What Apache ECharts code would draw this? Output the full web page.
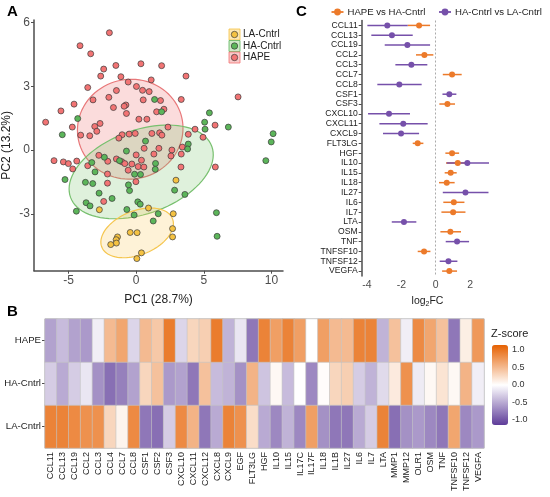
<!DOCTYPE html>
<html lang="en">
<head>
<meta charset="UTF-8">
<title>PCA / fold change / heatmap</title>
<script src="https://cdnjs.cloudflare.com/ajax/libs/echarts/6.0.0/echarts.min.js"></script>
<style>
  html, body { margin: 0; padding: 0; background: #fff; }
  #main { width: 550px; height: 497px; }
</style>
</head>
<body>
<div id="main"></div>
<script>
// ---------- panel A : PCA scores [PC1, PC2]
const hapePts = [
  [-1.98,5.52],[-4.15,4.91],[-3.36,4.53],[0.35,4.06],[1.88,3.97],[-1.5,3.98],[-2.4,3.81],
  [-2.62,3.48],[-1.13,3.45],[3.68,3.48],[1.11,3.3],[-0.59,3.2],[-3.58,2.94],[0.02,2.99],
  [0.47,2.81],[0.96,2.75],[-1.46,2.8],[-2.02,2.48],[7.53,2.5],[-3.19,2.36],[0.52,2.36],
  [1.8,2.33],[3.33,2.38],[-4.59,2.16],[-0.76,2.12],[-0.89,2.06],[-1.68,2.0],[-5.56,1.84],
  [1.51,1.8],[2.05,1.92],[-0.72,1.72],[0.2,1.45],[0.79,1.45],[-6.69,1.31],[-2.67,1.25],
  [-3.06,1.11],[-2.91,0.88],[-4.72,1.08],[-4.1,0.7],[-3.43,0.67],[2.35,1.08],[4.35,0.98],
  [5.83,1.17],[4.94,0.6],[3.85,0.74],[-1.04,0.72],[-0.52,0.75],[-0.07,0.78],[-1.28,0.56],
  [1.16,0.78],[1.73,0.81],[1.9,0.7],[0.59,0.08],[1.68,0.08],[2.64,0.0],[3.41,0.14],
  [-6.07,-0.5],[-5.38,-0.56],[-5.01,-0.64],[-4.69,-0.89],[-4.39,-0.52],[-3.58,-0.74],
  [-2.76,-0.25],[-2.1,-0.53],[-1.46,-0.42],[-1.06,-0.55],[-0.84,-0.64],[-0.32,-0.66],
  [0.0,-0.23],[0.39,-0.48],[0.15,-0.78],[0.57,-0.8],[-0.59,-0.95],[1.31,-0.19],[2.57,-0.28],
  [3.33,-0.19],[3.31,-0.8],[-2.12,-1.13],[-0.02,-1.49],[-2.12,-1.56],[-2.4,-2.42],[5.85,-0.8]
];
const haPts = [
  [1.36,2.38],[1.88,1.8],[-4.32,1.48],[5.41,1.75],[5.06,1.31],[5.09,0.98],[6.81,1.08],
  [-5.46,0.72],[10.12,0.77],[9.98,0.38],[0.69,0.42],[3.85,0.28],[3.8,0.05],[-0.72,-0.05],
  [-5.26,-1.39],[-3.28,-0.59],[-3.04,-1.03],[-2.35,-0.34],[-1.23,-0.5],[-0.12,-1.14],[0.32,-1.15],
  [1.43,-0.63],[1.41,-0.91],[9.58,-0.5],[-3.75,-1.52],[-3.21,-1.58],[-0.57,-1.64],[-0.49,-1.91],
  [-2.74,-2.03],[-1.78,-2.28],[2.84,-1.89],[3.6,-2.09],[-3.7,-2.48],[-3.41,-2.63],[-4.42,-2.88],
  [-0.69,-2.8],[0.12,-2.44],[0.3,-2.55],[-0.15,-3.06],[1.63,-3.0],[1.26,-3.34],[5.93,-2.95],
  [5.98,-4.06]
];
const laPts = [
  [2.94,-1.42],[-2.72,-2.81],[0.91,-2.73],[2.74,-3.0],[2.69,-3.7],[2.69,-4.09],[-0.44,-3.88],
  [0.07,-3.89],[-1.38,-4.09],[-1.48,-4.22],[-1.46,-4.38],[-1.88,-4.45],[0.39,-4.84],[0.05,-5.11]
];
// confidence ellipses: centre and two semi-axis vectors (data units)
const ellCentre = [[-0.44,0.98],[0.37,-1.03],[0.07,-3.9]];
const ellU = [[3.9,0.05],[5.22,1.2],[2.61,0.67]];
const ellV = [[0.0,2.35],[1.06,-1.85],[0.61,-0.96]];
const pcaXTicks = [-5,0,5,10];
const pcaYTicks = [-3,0,3,6];

// ---------- panel C : log2 fold change with intervals
const fcGenes = ['CCL11','CCL13','CCL19','CCL2','CCL3','CCL7','CCL8','CSF1','CSF3','CXCL10',
  'CXCL11','CXCL9','FLT3LG','HGF','IL10','IL15','IL18','IL27','IL6','IL7','LTA','OSM','TNF',
  'TNFSF10','TNFSF12','VEGFA'];
const hvhGenes = ['CCL11','CCL2','CCL7','CSF3','FLT3LG','HGF','IL10','IL15','IL18','IL6','IL7','OSM','TNFSF10','VEGFA'];
const hvhEst = [-0.97,-0.66,0.95,0.68,-1.05,0.95,1.28,0.87,0.64,1.05,1.01,0.85,-0.68,0.79];
const hvhLo  = [-1.63,-1.15,0.41,0.21,-1.34,0.56,0.6,0.52,0.19,0.44,0.33,0.27,-1.05,0.37];
const hvhHi  = [-0.33,-0.14,1.51,1.12,-0.72,1.36,1.95,1.22,1.1,1.67,1.73,1.47,-0.31,1.24];
const hvlGenes = ['CCL11','CCL13','CCL19','CCL3','CCL8','CSF1','CXCL10','CXCL11','CXCL9','IL10','IL27','LTA','TNF','TNFSF12'];
const hvlEst = [-2.82,-2.55,-1.65,-1.42,-2.12,0.79,-2.72,-1.89,-2.02,1.84,1.73,-1.85,1.24,0.74];
const hvlLo  = [-3.98,-3.75,-2.97,-2.35,-3.4,0.39,-3.94,-3.28,-3.07,0.64,0.41,-2.56,0.58,0.23];
const hvlHi  = [-1.63,-1.34,-0.33,-0.49,-0.82,1.2,-1.5,-0.47,-0.97,3.1,3.07,-1.13,1.94,1.26];
const fcTicks = [-4,-2,0,2];

// ---------- panel B : z-score heatmap
const hmGenes = ['CCL11','CCL13','CCL19','CCL2','CCL3','CCL4','CCL7','CCL8','CSF1','CSF2','CSF3',
  'CXCL10','CXCL11','CXCL12','CXCL8','CXCL9','EGF','FLT3LG','HGF','IL10','IL15','IL17C','IL17F',
  'IL18','IL1B','IL27','IL6','IL7','LTA','MMP1','MMP12','OLR1','OSM','TNF','TNFSF10','TNFSF12','VEGFA'];
const hmGroups = ['LA-Cntrl','HA-Cntrl','HAPE'];
const zHAPE = [-0.55,-0.4,-0.55,-0.6,-0.1,0.5,0.65,-0.25,0.5,0.4,0.95,-0.25,0.3,0.35,0.95,-0.45,-0.15,
  -0.8,0.9,0.7,0.9,0.7,0,0.7,0.5,0.5,0.9,0.9,-0.45,0.45,-0.1,0.85,0.65,0.45,-0.8,0.12,0.75];
const zHA = [-0.3,-0.5,-0.3,-0.15,-0.65,-0.85,-0.75,-0.55,0.3,0.45,-0.6,-0.55,-0.8,0.45,-0.4,-0.45,-0.65,
  0.55,-0.35,0.05,-0.4,0,-0.7,0.02,0.3,0.35,-0.3,-0.45,-0.22,0.15,0.8,-0.12,0.05,0.2,0.05,0.55,-0.1];
const zLA = [0.9,0.9,0.85,0.8,0.8,0.3,0.08,0.85,-0.8,-0.85,-0.3,0.85,0.55,-0.8,-0.5,0.9,0.8,
  0.25,-0.5,-0.7,-0.45,-0.7,0.7,-0.65,-0.8,-0.8,-0.5,-0.3,0.9,-0.85,-0.65,-0.6,-0.7,-0.8,0.65,-0.7,-0.6];
const zTicks = [1.0,0.5,0.0,-0.5,-1.0];

const FONT = '"Liberation Sans", Arial, sans-serif';
const AX = '#4d4d4d';
const ORANGE = '#ec7a2a';
const PURPLE = '#7650aa';

const chart = echarts.init(document.getElementById('main'));

function ellipse(i, stroke, fill) {
  return {
    type: 'custom', xAxisIndex: 0, yAxisIndex: 0, silent: true, z: 1,
    data: [ellCentre[i]],
    renderItem: (params, api) => {
      const cx = api.value(0), cy = api.value(1);
      const pts = [];
      for (let k = 0; k < 90; k++) {
        const t = k / 90 * Math.PI * 2;
        pts.push(api.coord([
          cx + ellU[i][0] * Math.cos(t) + ellV[i][0] * Math.sin(t),
          cy + ellU[i][1] * Math.cos(t) + ellV[i][1] * Math.sin(t)
        ]));
      }
      return { type: 'polygon', shape: { points: pts }, style: { fill: fill, stroke: stroke, lineWidth: 1.2 } };
    }
  };
}

function pcaScatter(name, pts, color) {
  return {
    name: name, type: 'scatter', xAxisIndex: 0, yAxisIndex: 0, z: 3,
    data: pts, symbolSize: 6,
    itemStyle: { color: color, borderColor: '#3a3a3a', borderWidth: 0.7, opacity: 1 }
  };
}

function whiskers(genes, est, lo, hi, color) {
  return {
    type: 'custom', xAxisIndex: 1, yAxisIndex: 1, z: 3,
    data: genes.map((g, i) => [est[i], g, lo[i], hi[i]]),
    encode: { x: 0, y: 1 },
    renderItem: (params, api) => {
      const y = api.value(1);
      const a = api.coord([api.value(2), y]);
      const b = api.coord([api.value(3), y]);
      return { type: 'line', shape: { x1: a[0], y1: a[1], x2: b[0], y2: b[1] },
               style: { stroke: color, lineWidth: 1.5 } };
    }
  };
}

function dots(genes, est, color) {
  return {
    type: 'scatter', xAxisIndex: 1, yAxisIndex: 1, z: 4,
    data: genes.map((g, i) => [est[i], g]),
    symbolSize: 6, itemStyle: { color: color, opacity: 1 }
  };
}

const heatData = [];
[zLA, zHA, zHAPE].forEach((row, r) => row.forEach((v, c) => heatData.push([c, r, v])));

// legend keys / panel letters / colour-bar labels
const graphics = [
  { type: 'text', left: 7, top: 4, style: { text: 'A', font: 'bold 15px ' + FONT, fill: '#000' } },
  { type: 'text', left: 296, top: 4, style: { text: 'C', font: 'bold 15px ' + FONT, fill: '#000' } },
  { type: 'text', left: 7, top: 304, style: { text: 'B', font: 'bold 15px ' + FONT, fill: '#000' } },
  { type: 'text', left: 491, top: 328, style: { text: 'Z-score', font: '11px ' + FONT, fill: '#222' } }
];
const legA = [['LA-Cntrl', '#f5c242', '#fde8b5'], ['HA-Cntrl', '#5cb55a', '#cfe9c9'], ['HAPE', '#f27474', '#f8c9c9']];
legA.forEach((it, i) => {
  const y = 29 + i * 11.5;
  graphics.push({ type: 'rect', shape: { x: 229, y: y, width: 11, height: 11 }, style: { fill: it[2], stroke: it[1], lineWidth: 0.8 } });
  graphics.push({ type: 'circle', shape: { cx: 234.5, cy: y + 5.5, r: 3.2 }, style: { fill: it[1], stroke: '#3a3a3a', lineWidth: 0.7 } });
  graphics.push({ type: 'text', x: 243, y: y + 5.5, style: { text: it[0], font: '10px ' + FONT, fill: '#222', verticalAlign: 'middle' } });
});
const legC = [['HAPE vs HA-Cntrl', ORANGE, 331.5], ['HA-Cntrl vs LA-Cntrl', PURPLE, 439]];
legC.forEach(it => {
  graphics.push({ type: 'line', shape: { x1: it[2], y1: 12, x2: it[2] + 12, y2: 12 }, style: { stroke: it[1], lineWidth: 1.8 } });
  graphics.push({ type: 'circle', shape: { cx: it[2] + 6, cy: 12, r: 3.4 }, style: { fill: it[1] } });
  graphics.push({ type: 'text', x: it[2] + 16, y: 12, style: { text: it[0], font: '9.6px ' + FONT, fill: '#222', verticalAlign: 'middle' } });
});
zTicks.forEach(v => {
  graphics.push({ type: 'text', x: 512, y: 385 - v * 35, style: { text: v.toFixed(1), font: '9px ' + FONT, fill: '#333', verticalAlign: 'middle' } });
});

const option = {
  animation: false,
  textStyle: { fontFamily: FONT },
  grid: [
    { left: 34, top: 20, width: 249, height: 250.7 },
    { left: 361.7, top: 20.5, width: 131.6, height: 255.5 },
    { left: 45, top: 319, width: 439, height: 129, show: true, borderColor: '#aaaaaa', borderWidth: 1, backgroundColor: 'transparent' }
  ],
  xAxis: [
    { gridIndex: 0, type: 'value', min: -7.55, max: 10.85,
      axisLine: { onZero: false, lineStyle: { color: AX, width: 1.5 } },
      axisTick: { length: 3, customValues: pcaXTicks, lineStyle: { color: AX } },
      axisLabel: { customValues: pcaXTicks, fontSize: 12, color: AX, margin: 4 },
      splitLine: { show: false },
      name: 'PC1 (28.7%)', nameLocation: 'middle', nameGap: 23,
      nameTextStyle: { fontSize: 12, color: '#222' } },
    { gridIndex: 1, type: 'value', min: -4.31, max: 3.35,
      axisLine: { onZero: false, lineStyle: { color: AX, width: 1.5 } },
      axisTick: { length: 3, customValues: fcTicks, lineStyle: { color: AX } },
      axisLabel: { customValues: fcTicks, fontSize: 10.5, color: AX, margin: 4 },
      splitLine: { show: false },
      name: '{a|log}{b|2}{a|FC}', nameLocation: 'middle', nameGap: 17,
      nameTextStyle: { rich: { a: { fontSize: 10.5, color: '#222' }, b: { fontSize: 7, color: '#222', padding: [6, 0, 0, 0] } } } },
    { gridIndex: 2, type: 'category', data: hmGenes,
      axisLine: { show: false },
      axisTick: { length: 3, alignWithLabel: true, interval: 0, lineStyle: { color: AX } },
      axisLabel: { rotate: 90, interval: 0, fontSize: 9, color: '#222', margin: 4 },
      splitLine: { show: false } }
  ],
  yAxis: [
    { gridIndex: 0, type: 'value', min: -5.68, max: 6.12,
      axisLine: { show: true, onZero: false, lineStyle: { color: AX, width: 1.5 } },
      axisTick: { show: true, length: 3, customValues: pcaYTicks, lineStyle: { color: AX } },
      axisLabel: { customValues: pcaYTicks, fontSize: 12, color: AX, margin: 4 },
      splitLine: { show: false },
      name: 'PC2 (13.2%)', nameLocation: 'middle', nameGap: 21,
      nameTextStyle: { fontSize: 12, color: '#222' } },
    { gridIndex: 1, type: 'category', data: fcGenes, inverse: true,
      axisLine: { show: true, onZero: false, lineStyle: { color: AX, width: 1.5 } },
      axisTick: { show: true, length: 3, alignWithLabel: true, interval: 0, lineStyle: { color: AX } },
      axisLabel: { interval: 0, fontSize: 8.6, color: '#222', margin: 4 },
      splitLine: { show: false } },
    { gridIndex: 2, type: 'category', data: hmGroups,
      axisLine: { show: false },
      axisTick: { show: true, length: 3, alignWithLabel: true, lineStyle: { color: AX } },
      axisLabel: { fontSize: 9.6, color: '#222', margin: 4 },
      splitLine: { show: false } }
  ],
  visualMap: {
    type: 'continuous', seriesIndex: 10, min: -1.15, max: 1.15,
    inRange: { color: ['#5e3c99', '#ffffff', '#e66101'] },
    left: 477, top: 330, itemWidth: 16, itemHeight: 80,
    calculable: false, text: null, showLabel: false, hoverLink: false
  },
  graphic: graphics,
  series: [
    ellipse(0, '#e8787a', 'rgba(240,110,110,0.24)'),
    ellipse(1, '#78c06f', 'rgba(110,190,95,0.22)'),
    ellipse(2, '#f5c64f', 'rgba(250,205,95,0.25)'),
    pcaScatter('HAPE', hapePts, '#f27474'),
    pcaScatter('HA-Cntrl', haPts, '#5cb55a'),
    pcaScatter('LA-Cntrl', laPts, '#f5c242'),
    Object.assign(whiskers(hvhGenes, hvhEst, hvhLo, hvhHi, ORANGE), {
      markLine: { silent: true, symbol: 'none', label: { show: false },
        lineStyle: { color: '#aaaaaa', type: [2, 2], width: 1 }, data: [{ xAxis: 0 }] } }),
    dots(hvhGenes, hvhEst, ORANGE),
    whiskers(hvlGenes, hvlEst, hvlLo, hvlHi, PURPLE),
    dots(hvlGenes, hvlEst, PURPLE),
    { type: 'heatmap', xAxisIndex: 2, yAxisIndex: 2, data: heatData,
      itemStyle: { borderColor: '#c4c4c4', borderWidth: 0.6 } }
  ]
};
chart.setOption(option);
</script>
</body>
</html>
